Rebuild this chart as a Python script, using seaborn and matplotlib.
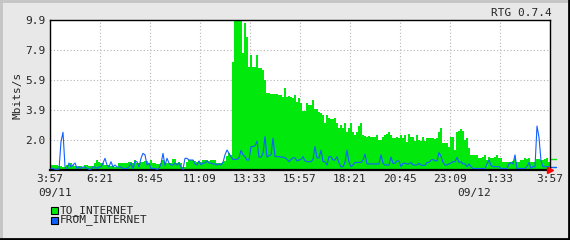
import numpy as np
import pandas as pd
import matplotlib
matplotlib.use("Agg")
import matplotlib.pyplot as plt
from matplotlib.lines import Line2D
from matplotlib.patches import Rectangle
import seaborn as sns

# ---------------- data ----------------
x_tick_labels = ["3:57", "6:21", "8:45", "11:09", "13:33", "15:57",
                 "18:21", "20:45", "23:09", "1:33", "3:57"]
y_tick_values = [1.98, 3.96, 5.94, 7.92, 9.9]
y_tick_labels = ["2.0", "3.9", "5.9", "7.9", "9.9"]
date_labels = ["09/11", "09/12"]
series_names = ["TO_INTERNET", "FROM_INTERNET"]

to_internet = [
    0.33, 0.33, 0.33, 0.36, 0.26, 0.24, 0.22, 0.22, 0.36, 0.36,
    0.48, 0.33, 0.26, 0.26, 0.26, 0.26, 0.22, 0.33, 0.36, 0.26,
    0.26, 0.26, 0.48, 0.66, 0.55, 0.44, 0.44, 0.36, 0.33, 0.33,
    0.26, 0.26, 0.22, 0.22, 0.44, 0.48, 0.48, 0.48, 0.48, 0.55,
    0.55, 0.48, 0.66, 0.48, 0.48, 0.55, 0.55, 0.60, 0.60, 0.44,
    0.66, 0.48, 0.48, 0.40, 0.40, 0.48, 0.66, 0.48, 0.48, 0.44,
    0.44, 0.70, 0.70, 0.44, 0.55, 0.48, 0.22, 0.22, 0.55, 0.66,
    0.66, 0.66, 0.60, 0.55, 0.60, 0.55, 0.66, 0.66, 0.66, 0.60,
    0.66, 0.66, 0.66, 0.48, 0.44, 0.48, 0.55, 0.60, 0.95, 1.10,
    1.00, 7.10, 9.90, 9.90, 9.90, 9.90, 7.70, 9.70, 8.80, 6.80,
    7.60, 6.80, 6.80, 7.60, 6.75, 6.70, 6.60, 5.95, 5.10, 5.05,
    5.00, 5.00, 5.00, 5.00, 4.95, 4.95, 4.80, 5.40, 4.80, 4.90,
    4.80, 4.75, 4.95, 4.50, 4.75, 4.40, 3.90, 3.90, 4.40, 4.30,
    4.30, 4.60, 4.00, 4.00, 3.85, 3.75, 3.65, 3.10, 3.60, 3.40,
    3.35, 3.35, 3.45, 3.10, 2.75, 3.00, 2.75, 3.10, 2.50, 2.75,
    3.10, 2.50, 2.30, 2.50, 2.90, 3.10, 2.30, 2.25, 2.20, 2.25,
    2.20, 2.20, 2.15, 2.30, 2.00, 2.00, 2.20, 2.30, 2.35, 2.50,
    2.30, 2.10, 2.10, 2.15, 2.10, 2.30, 2.10, 2.30, 1.87, 2.35,
    2.20, 2.15, 1.90, 2.30, 2.00, 1.90, 2.15, 1.90, 2.10, 2.10,
    2.10, 2.10, 2.05, 2.10, 2.50, 2.80, 1.80, 1.80, 1.80, 1.55,
    2.20, 2.20, 1.35, 2.50, 2.60, 2.70, 2.60, 2.00, 2.10, 1.45,
    1.00, 1.00, 1.00, 1.00, 0.77, 0.77, 0.85, 1.00, 0.66, 0.85,
    0.80, 0.80, 0.85, 1.00, 0.77, 0.77, 0.55, 0.50, 0.50, 0.55,
    0.50, 0.60, 0.70, 0.50, 0.55, 0.66, 0.66, 0.77, 0.70, 0.80,
    0.50, 0.50, 0.50, 0.70, 0.70, 0.66, 0.66, 0.70, 0.77, 0.55,
]

from_internet = [
    0.10, 0.10, 0.05, 0.05, 0.05, 1.87, 2.49, 0.22, 0.10, 0.46,
    0.20, 0.33, 0.46, 0.10, 0.20, 0.10, 0.20, 0.20, 0.10, 0.05,
    0.05, 0.20, 0.20, 0.10, 0.20, 0.20, 0.46, 0.77, 0.33, 0.20,
    0.55, 0.20, 0.33, 0.20, 0.20, 0.20, 0.10, 0.10, 0.10, 0.20,
    0.46, 0.10, 0.55, 0.55, 0.20, 0.77, 1.10, 1.00, 0.33, 0.46,
    0.10, 0.10, 0.10, 0.05, 0.10, 0.40, 1.10, 0.30, 0.77, 0.46,
    0.33, 0.33, 0.46, 0.33, 0.46, 0.20, 0.05, 0.77, 0.77, 0.66,
    0.66, 0.66, 0.40, 0.33, 0.60, 0.33, 0.46, 0.46, 0.60, 0.46,
    0.46, 0.40, 0.40, 0.33, 0.40, 0.33, 0.50, 1.00, 1.32, 1.10,
    0.88, 0.70, 0.70, 0.70, 0.80, 1.30, 1.00, 0.88, 0.66, 0.66,
    1.55, 1.55, 1.60, 1.90, 0.85, 0.85, 1.10, 2.20, 0.85, 0.95,
    1.00, 2.10, 0.90, 0.88, 0.88, 0.85, 0.85, 0.80, 0.70, 0.55,
    0.70, 0.80, 0.80, 0.60, 0.66, 0.70, 0.88, 0.60, 0.55, 0.55,
    0.55, 0.70, 1.55, 0.80, 0.80, 1.30, 0.55, 0.55, 0.33, 0.88,
    0.88, 0.66, 0.66, 0.88, 0.46, 0.22, 0.22, 0.50, 1.32, 0.50,
    0.22, 0.33, 0.50, 0.50, 0.50, 0.50, 0.66, 1.05, 0.40, 0.40,
    0.40, 0.40, 0.40, 0.40, 0.40, 1.00, 0.44, 0.33, 0.33, 0.33,
    0.85, 0.44, 0.44, 0.60, 0.60, 0.22, 0.44, 0.44, 0.40, 0.40,
    0.50, 0.33, 0.33, 0.33, 0.44, 0.33, 0.30, 0.30, 0.50, 0.50,
    0.66, 0.70, 0.61, 0.61, 1.15, 0.90, 0.50, 0.33, 0.33, 0.40,
    0.46, 0.55, 0.55, 0.83, 0.50, 0.55, 0.40, 0.40, 0.22, 0.40,
    0.22, 0.10, 0.10, 0.10, 0.10, 0.10, 0.10, 0.10, 0.40, 0.66,
    0.30, 0.22, 0.22, 0.22, 0.22, 0.10, 0.10, 0.10, 0.10, 0.40,
    0.50, 0.40, 1.00, 0.10, 0.10, 0.10, 0.10, 0.10, 0.22, 0.50,
    0.10, 0.22, 0.22, 2.90, 2.16, 0.60, 0.22, 0.22, 0.22, 0.22,
]

# ---------------- style ----------------
GREEN = "#00e80c"
BLUE = "#1060ff"
BG = "#e8e8e8"
MONO = ["DejaVu Sans Mono"]

sns.set_theme(style="white")
plt.rcParams["font.family"] = MONO
plt.rcParams["font.size"] = 8

n = len(to_internet)
span_hours = 24.0
hours = (np.arange(n) + 0.5) * span_hours / n
df = pd.DataFrame({"hours": hours, "to": to_internet, "from": from_internet})

W, H = 570, 240
fig = plt.figure(figsize=(W / 100, H / 100), dpi=100, facecolor=BG)
ax = fig.add_axes([50 / W, (H - 170) / H, 500 / W, 150 / H])
ax.set_facecolor("white")

# green area (per-sample columns)
sns.histplot(data=df, x="hours", weights="to", bins=n, binrange=(0, span_hours),
             element="step", fill=True, color=GREEN, alpha=1.0,
             linewidth=0, ax=ax, zorder=2)
# blue line
sns.lineplot(data=df, x="hours", y="from", color=BLUE, linewidth=0.8,
             ax=ax, zorder=3)

ax.set_xlim(0, span_hours)
ax.set_ylim(0, 9.9)

xt = np.linspace(0, span_hours, len(x_tick_labels))
ax.set_xticks(xt)
ax.set_xticklabels(x_tick_labels, fontsize=8, family=MONO)
ax.set_yticks(y_tick_values)
ax.set_yticklabels(y_tick_labels, fontsize=8, family=MONO)
ax.tick_params(axis="both", length=0, pad=3)
ax.set_xlabel("")
ax.set_ylabel("")

ax.grid(True, which="major", color="#b4b4b4", linestyle=(0, (1, 2)),
        linewidth=0.8, zorder=1)
ax.set_axisbelow(True)
for s in ax.spines.values():
    s.set_color("black")
    s.set_linewidth(1.0)
    s.set_visible(True)
ax.spines["bottom"].set_linewidth(1.6)

# y axis title
fig.text(18 / W, 1 - 95 / H, "Mbits/s", rotation=90, ha="center",
         va="center", fontsize=8, family=MONO)

# red arrow at end of x axis
ax.plot([span_hours], [0], marker=">", color="red", markersize=5,
        clip_on=False, zorder=5)
# current-value markers on the right edge
trans = ax.get_yaxis_transform()
ax.plot([1.0, 1.012], [to_internet[-1] + 0.15] * 2, color=GREEN, lw=1,
        transform=trans, clip_on=False)
ax.plot([1.0, 1.012], [from_internet[-1]] * 2, color=BLUE, lw=1,
        transform=trans, clip_on=False)

# date labels
fig.text(55 / W, 1 - 193 / H, date_labels[0], ha="center", va="center",
         fontsize=8, family=MONO)
fig.text(474 / W, 1 - 193 / H, date_labels[1], ha="center", va="center",
         fontsize=8, family=MONO)

# version text
fig.text(552 / W, 1 - 12.5 / H, "RTG 0.7.4", ha="right", va="center",
         fontsize=8, family=MONO)

# legend
for k, (name, col) in enumerate(zip(series_names, [GREEN, BLUE])):
    yc = 210.5 + k * 9.5
    fig.add_artist(Rectangle((50.5 / W, 1 - (yc + 3.5) / H), 7.5 / W, 7 / H,
                             transform=fig.transFigure, facecolor=col,
                             edgecolor="black", linewidth=0.8))
    fig.text(60 / W, 1 - yc / H, name, ha="left", va="center",
             fontsize=8, family=MONO)

# bevelled frame
light = "#c4c4c4"
fig.add_artist(Line2D([0, 1], [1 - 1 / H, 1 - 1 / H], color=light, lw=2,
                      transform=fig.transFigure))
fig.add_artist(Line2D([1 / W, 1 / W], [0, 1], color=light, lw=2,
                      transform=fig.transFigure))
fig.add_artist(Line2D([0, 1], [1 / H, 1 / H], color="black", lw=2,
                      transform=fig.transFigure))
fig.add_artist(Line2D([1 - 1 / W, 1 - 1 / W], [0, 1], color="black", lw=2,
                      transform=fig.transFigure))

fig.savefig("out.png", dpi=100, facecolor=BG)
